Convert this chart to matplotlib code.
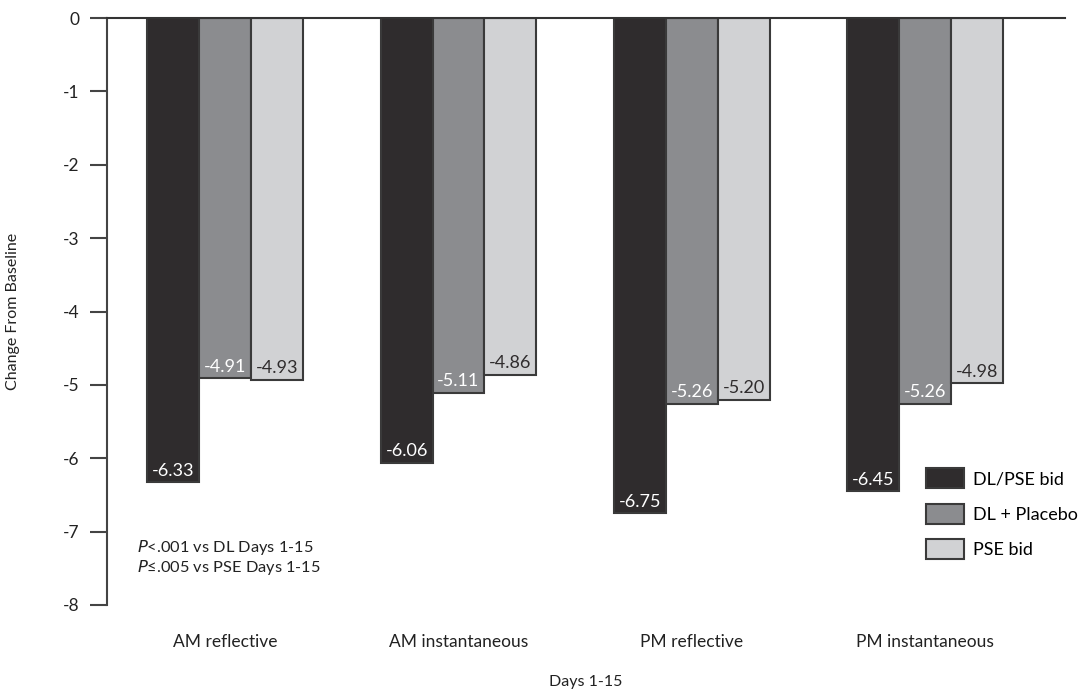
import numpy as np
import matplotlib.pyplot as plt

plt.rcParams['font.family'] = ['Lato', 'DejaVu Sans']

categories = ['AM reflective', 'AM instantaneous', 'PM reflective', 'PM instantaneous']
series_names = ['DL/PSE bid', 'DL + Placebo', 'PSE bid']
dl_pse = [-6.33, -6.06, -6.75, -6.45]
dl_placebo = [-4.91, -5.11, -5.26, -5.26]
pse = [-4.93, -4.86, -5.20, -4.98]
yticks = [0, -1, -2, -3, -4, -5, -6, -7, -8]

colors = ['#2f2c2d', '#8b8c8f', '#d1d2d4']
text_colors = ['white', 'white', '#2f2c2d']
edge = '#3a3a3a'

fig = plt.figure(figsize=(10.79, 6.93), dpi=100)
ax = fig.add_axes([0.0992, 0.127, 0.888, 0.847])

x = np.arange(len(categories))
width = 0.222
for i, vals in enumerate([dl_pse, dl_placebo, pse]):
    pos = x + (i - 1) * width
    ax.bar(pos, vals, width, color=colors[i], edgecolor=edge, linewidth=1.5,
           label=series_names[i], zorder=2)
    for px, v in zip(pos, vals):
        ax.text(px, v + 0.05, '{:.2f}'.format(v), ha='center', va='bottom',
                color=text_colors[i], fontsize=13, zorder=3)

ax.set_xlim(-0.506, 3.6)
ax.set_ylim(-8, 0)
ax.set_yticks(yticks)
ax.set_yticklabels([str(t) for t in yticks], fontsize=12.5, color='#222222')
ax.tick_params(axis='y', length=12, width=1.5, color='#444444', pad=8)
ax.set_xticks(x)
ax.set_xticklabels(categories, fontsize=12.5, color='#222222')
ax.tick_params(axis='x', length=0, pad=21)

for s in ['right', 'bottom']:
    ax.spines[s].set_visible(False)
ax.spines['left'].set_linewidth(1.5)
ax.spines['left'].set_color('#444444')
ax.spines['top'].set_linewidth(1.5)
ax.spines['top'].set_color('#333333')

fig.text(0.012, 0.551, 'Change From Baseline', rotation=90, fontsize=11.5, color='#222222',
         ha='center', va='center')
ax.set_xlabel('Days 1-15', fontsize=11.5, color='#222222', labelpad=18)

ax.text(-0.377, -7.21, r'$\it{P}$' + '<.001 vs DL Days 1-15', fontsize=11.8, color='#222222',
        va='center')
ax.text(-0.377, -7.49, r'$\it{P}$' + '≤.005 vs PSE Days 1-15', fontsize=11.8, color='#222222',
        va='center')

leg = ax.legend(loc='lower right', bbox_to_anchor=(1.03, 0.05), frameon=False, fontsize=13,
                handlelength=2.1, handleheight=1.35, labelspacing=0.85, handletextpad=0.5)

fig.savefig('out.png', dpi=100)
